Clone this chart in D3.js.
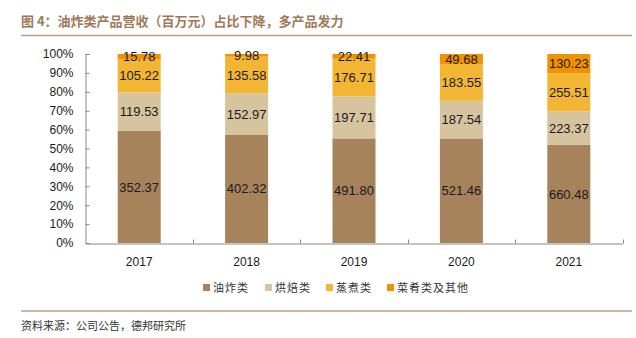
<!DOCTYPE html>
<html>
<head>
<meta charset="utf-8">
<script src="https://cdn.jsdelivr.net/npm/d3@7"></script>
<style>
  body { margin: 0; background: #fff; }
  text { font-family: "Liberation Sans", Arial, sans-serif; }
  .cjk { font-family: "Noto Sans CJK SC", sans-serif; }
</style>
</head>
<body>
<div id="chart"></div>
<script>
var years = ["2017", "2018", "2019", "2020", "2021"];
var seriesNames = ["油炸类", "烘焙类", "蒸煮类", "菜肴类及其他"];
var fried = [352.37, 402.32, 491.80, 521.46, 660.48];
var baked = [119.53, 152.97, 197.71, 187.54, 223.37];
var steamed = [105.22, 135.58, 176.71, 183.55, 255.51];
var dishes = [15.78, 9.98, 22.41, 49.68, 130.23];
var colors = ["#a6835b", "#d6c49f", "#f3b634", "#f39200"];
var yTicks = [0, 0.1, 0.2, 0.3, 0.4, 0.5, 0.6, 0.7, 0.8, 0.9, 1];

var w = 636, h = 338;
var svg = d3.select("#chart").append("svg").attr("width", w).attr("height", h);

// title and rules
svg.append("text").attr("class", "cjk")
  .attr("x", 21).attr("y", 26)
  .style("font-size", "13px").style("font-weight", "bold").style("fill", "#a07a58")
  .text("图 4：油炸类产品营收（百万元）占比下降，多产品发力");
svg.append("line").attr("x1", 21).attr("x2", 632).attr("y1", 35.5).attr("y2", 35.5)
  .style("stroke", "#bf9f7f").style("stroke-width", 1.5);
svg.append("line").attr("x1", 21).attr("x2", 632).attr("y1", 311).attr("y2", 311)
  .style("stroke", "#bf9f7f").style("stroke-width", 1.5);
svg.append("text").attr("class", "cjk")
  .attr("x", 21).attr("y", 330)
  .style("font-size", "11px").style("fill", "#333")
  .text("资料来源：公司公告，德邦研究所");

// data rows
var rows = years.map(function(y, i) {
  var vals = [fried[i], baked[i], steamed[i], dishes[i]];
  var total = d3.sum(vals);
  var r = { year: y };
  seriesNames.forEach(function(s, j) { r[s] = vals[j] / total; r[s + "_v"] = vals[j]; });
  return r;
});
var stacked = d3.stack().keys(seriesNames)(rows);

var x = d3.scaleBand().domain(years).range([85.5, 622.5]);
var y = d3.scaleLinear().domain([0, 1]).range([243, 54]);
var barW = 43;

var g = svg.append("g");
stacked.forEach(function(layer, j) {
  g.selectAll(null).data(layer).enter().append("rect")
    .attr("x", function(d) { return x(d.data.year) + x.bandwidth() / 2 - barW / 2; })
    .attr("y", function(d) { return y(d[1]); })
    .attr("width", barW)
    .attr("height", function(d) { return y(d[0]) - y(d[1]); })
    .style("fill", colors[j]);
  g.selectAll(null).data(layer).enter().append("text")
    .attr("x", function(d) { return x(d.data.year) + x.bandwidth() / 2; })
    .attr("y", function(d) { return (y(d[0]) + y(d[1])) / 2; })
    .attr("dy", "0.36em")
    .attr("text-anchor", "middle")
    .style("font-size", "13px").style("fill", "#1a1a1a")
    .text(function(d) { return d.data[layer.key + "_v"].toFixed(2); });
});

// y axis
var yAxis = svg.append("g").attr("transform", "translate(85.5,0)")
  .call(d3.axisRight(y).tickValues(yTicks).tickSize(4).tickFormat(d3.format(".0%")));
yAxis.select(".domain").style("stroke", "#888");
yAxis.selectAll(".tick line").style("stroke", "#888");
yAxis.selectAll(".tick text").attr("x", -12).attr("text-anchor", "end")
  .style("font-size", "12px").style("fill", "#1a1a1a").style("font-family", "'Liberation Sans', Arial, sans-serif");

// x axis
var xAxis = svg.append("g").attr("transform", "translate(0,243.5)")
  .call(d3.axisBottom(x).tickSize(0).tickSizeOuter(0));
xAxis.select(".domain").style("stroke", "#888");
xAxis.selectAll(".tick text").attr("y", 14)
  .style("font-size", "12px").style("fill", "#1a1a1a").style("font-family", "'Liberation Sans', Arial, sans-serif");
var bounds = years.map(function(yr) { return x(yr) + x.bandwidth(); });
svg.selectAll(null).data(bounds).enter().append("line")
  .attr("x1", function(d) { return Math.round(d) + 0.5; })
  .attr("x2", function(d) { return Math.round(d) + 0.5; })
  .attr("y1", 243.5).attr("y2", 239.5)
  .style("stroke", "#888");

// legend
var legendX = [203, 265, 326, 387];
var legend = svg.append("g");
seriesNames.forEach(function(s, j) {
  legend.append("rect").attr("x", legendX[j]).attr("y", 284).attr("width", 7).attr("height", 7)
    .style("fill", colors[j]);
  legend.append("text").attr("class", "cjk")
    .attr("x", legendX[j] + 10).attr("y", 291.5)
    .style("font-size", "11px").style("fill", "#333").style("letter-spacing", "1px")
    .text(s);
});
</script>
</body>
</html>
